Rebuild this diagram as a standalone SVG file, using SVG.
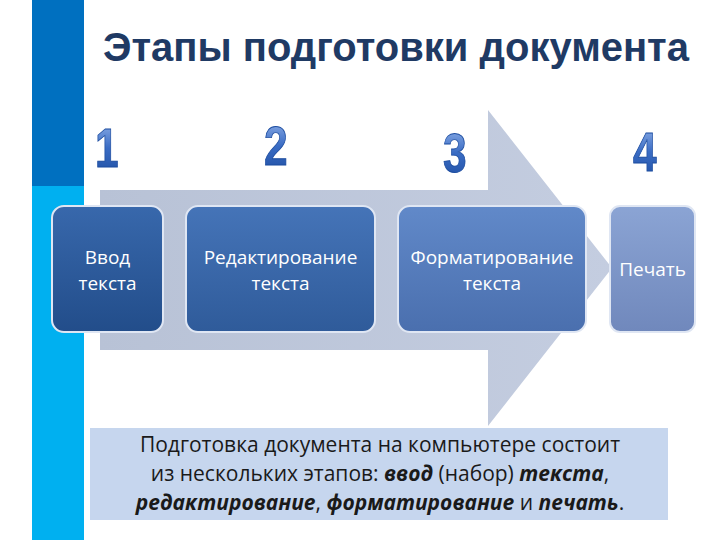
<svg xmlns="http://www.w3.org/2000/svg" width="720" height="540" viewBox="0 0 720 540">
<defs>
<linearGradient id="arrowG" x1="0" y1="0" x2="1" y2="0">
<stop offset="0" stop-color="#b8c2d6"/>
<stop offset="1" stop-color="#c4cde0"/>
</linearGradient>
<linearGradient id="numG" x1="0" y1="0" x2="0" y2="1">
<stop offset="0" stop-color="#9ab8ec"/>
<stop offset="0.5" stop-color="#3a6cc4"/>
<stop offset="1" stop-color="#1d4da0"/>
</linearGradient>
<linearGradient id="b1" x1="0" y1="0" x2="0" y2="1">
<stop offset="0" stop-color="#3868ac"/>
<stop offset="1" stop-color="#224d8a"/>
</linearGradient>
<linearGradient id="b2" x1="0" y1="0" x2="0" y2="1">
<stop offset="0" stop-color="#4574b8"/>
<stop offset="1" stop-color="#2f5b9a"/>
</linearGradient>
<linearGradient id="b3" x1="0" y1="0" x2="0" y2="1">
<stop offset="0" stop-color="#6189c9"/>
<stop offset="1" stop-color="#4a6fae"/>
</linearGradient>
<linearGradient id="b4" x1="0" y1="0" x2="0" y2="1">
<stop offset="0" stop-color="#8ba4d4"/>
<stop offset="1" stop-color="#7088bc"/>
</linearGradient>
<style>
.title{font-family:"Liberation Sans",Arial,sans-serif;font-weight:bold;font-size:40px;fill:#1f3a64}
.num{font-family:"Liberation Sans",Arial,sans-serif;font-weight:bold;font-size:50px;fill:url(#numG);stroke:#1d4da0;stroke-width:0.8}
.box{stroke:#dfe6f3;stroke-width:2}
.bt{font-family:"Open Sans","Noto Sans",sans-serif;font-size:19px;fill:#ffffff;text-anchor:middle}
.note{font-family:"Open Sans","Noto Sans",sans-serif;font-size:21px;fill:#1a1a1a;text-anchor:middle}
.em{font-style:italic;font-weight:bold}
</style>
</defs>
<rect x="0" y="0" width="720" height="540" fill="#ffffff"/>
<rect x="32" y="0" width="52" height="186" fill="#0070c0"/>
<rect x="32" y="186" width="52" height="354" fill="#00b0f0"/>
<text class="title" x="103" y="61">Этапы подготовки документа</text>
<g id="arrow">
<path d="M100 190 H488 V110 L612 268 L488 426 V350 H100 Z" fill="url(#arrowG)"/>
</g>
<g id="n1"><text class="num" transform="translate(95 167) scale(0.85 1.1)">1</text></g>
<g id="n2"><text class="num" transform="translate(264 165) scale(0.85 1.1)">2</text></g>
<g id="n3"><text class="num" transform="translate(443 172) scale(0.85 1.1)">3</text></g>
<g id="n4"><text class="num" transform="translate(633 171) scale(0.85 1.1)">4</text></g>
<g id="connectors"></g>
<g id="s1">
<rect class="box" x="52" y="206" width="111" height="126" rx="12" fill="url(#b1)"/>
<text class="bt" x="107.5" y="264">Ввод</text>
<text class="bt" x="107.5" y="290">текста</text>
</g>
<g id="s2">
<rect class="box" x="186" y="206" width="189" height="126" rx="12" fill="url(#b2)"/>
<text class="bt" x="280.5" y="264">Редактирование</text>
<text class="bt" x="280.5" y="290">текста</text>
</g>
<g id="s3">
<rect class="box" x="398" y="206" width="188" height="126" rx="12" fill="url(#b3)"/>
<text class="bt" x="492" y="264">Форматирование</text>
<text class="bt" x="492" y="290">текста</text>
</g>
<g id="s4">
<rect class="box" x="610" y="206" width="85" height="126" rx="10" fill="url(#b4)"/>
<text class="bt" x="652.5" y="276">Печать</text>
</g>
<g id="note">
<rect x="90" y="428" width="578" height="92" fill="#c6d6ee"/>
<text class="note" x="380" y="452">Подготовка документа на компьютере состоит</text>
<text class="note" x="380" y="481">из нескольких этапов: <tspan class="em">ввод</tspan> (набор) <tspan class="em">текста</tspan>,</text>
<text class="note" x="380" y="510"><tspan class="em">редактирование</tspan>, <tspan class="em">форматирование</tspan> и <tspan class="em">печать</tspan>.</text>
</g>
</svg>
